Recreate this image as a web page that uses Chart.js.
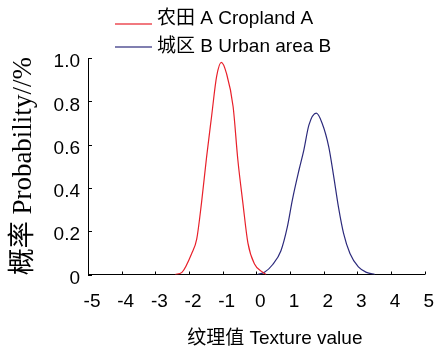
<!DOCTYPE html>
<html><head><meta charset="utf-8">
<script src="https://cdn.jsdelivr.net/npm/chart.js@4.4.0/dist/chart.umd.min.js"></script>
<style>html,body{margin:0;padding:0;background:#fff;}#wrap{width:446px;height:350px;}</style>
</head><body><div id="wrap"><canvas id="c" width="446" height="350"></canvas></div>
<script>
const seriesNames = ['农田 A Cropland A', '城区 B Urban area B'];
const croplandX = [-2.41, -2.21, -1.92, -1.77, -1.63, -1.48, -1.33, -1.18, -1.04, -0.89, -0.69, -0.55, -0.40, -0.25, -0.06, 0.19, 0.29];
const croplandY = [0, 0.01, 0.097, 0.165, 0.33, 0.54, 0.73, 0.915, 0.98, 0.93, 0.775, 0.53, 0.33, 0.145, 0.05, 0.01, 0];
const urbanX = [0.04, 0.24, 0.48, 0.73, 0.92, 1.07, 1.27, 1.41, 1.56, 1.78, 1.95, 2.15, 2.30, 2.44, 2.59, 2.78, 3.03, 3.27, 3.52];
const urbanY = [0, 0.01, 0.045, 0.11, 0.22, 0.345, 0.485, 0.575, 0.69, 0.745, 0.70, 0.59, 0.45, 0.31, 0.19, 0.097, 0.035, 0.01, 0];
const xTickLabels = ['-5', '-4', '-3', '-2', '-1', '0', '1', '2', '3', '4', '5'];
const yTickLabels = ['0', '0.2', '0.4', '0.6', '0.8', '1.0'];
const xTitle = '纹理值 Texture value';
const yTitle = '概率 Probability//%';
const seriesColors = ['#e8202a', '#2c2a7c'];

const toPoints = (xs, ys) => xs.map((x, i) => ({x: x, y: ys[i]}));

const innerTicks = {
  id: 'innerTicks',
  afterDraw(chart) {
    const ctx = chart.ctx, xs = chart.scales.x, ys = chart.scales.y;
    ctx.save();
    ctx.strokeStyle = '#000';
    ctx.lineWidth = 1;
    ctx.beginPath();
    xs.ticks.forEach(t => {
      const px = Math.round(xs.getPixelForValue(t.value)) + 0.5;
      ctx.moveTo(px, ys.bottom);
      ctx.lineTo(px, ys.bottom - 3);
    });
    ys.ticks.forEach(t => {
      const py = Math.round(ys.getPixelForValue(t.value)) + 0.5;
      ctx.moveTo(xs.left, py);
      ctx.lineTo(xs.left + 4, py);
    });
    ctx.stroke();
    ctx.restore();
  }
};

const sideLegend = {
  id: 'sideLegend',
  afterDraw(chart) {
    const ctx = chart.ctx;
    const rows = [{lineY: 24, textY: 19}, {lineY: 47, textY: 47}];
    ctx.save();
    ctx.font = '19px "Liberation Sans", "Noto Sans CJK SC"';
    ctx.textBaseline = 'middle';
    ctx.textAlign = 'left';
    chart.data.datasets.forEach((ds, i) => {
      const r = rows[i];
      ctx.globalAlpha = 0.6;
      ctx.strokeStyle = ds.borderColor;
      ctx.lineWidth = 2;
      ctx.beginPath();
      ctx.moveTo(115, r.lineY);
      ctx.lineTo(152, r.lineY);
      ctx.stroke();
      ctx.globalAlpha = 1;
      ctx.fillStyle = '#000';
      ctx.fillText(ds.label, 157, r.textY);
    });
    ctx.restore();
  }
};

new Chart(document.getElementById('c'), {
  type: 'line',
  data: {
    datasets: [
      {label: seriesNames[0], data: toPoints(croplandX, croplandY), borderColor: seriesColors[0], borderWidth: 1.2, pointRadius: 0, fill: false, cubicInterpolationMode: 'monotone'},
      {label: seriesNames[1], data: toPoints(urbanX, urbanY), borderColor: seriesColors[1], borderWidth: 1.2, pointRadius: 0, fill: false, cubicInterpolationMode: 'monotone'}
    ]
  },
  options: {
    responsive: false,
    animation: false,
    devicePixelRatio: 1,
    layout: {padding: {top: 58, right: 17, bottom: 0, left: 0}},
    plugins: {legend: {display: false}, tooltip: {enabled: false}},
    scales: {
      x: {
        type: 'linear', min: -5, max: 5,
        afterFit: s => { s.height = 75.5; },
        grid: {display: true, drawOnChartArea: false, drawTicks: false},
        border: {display: true, color: '#000', width: 1},
        ticks: {stepSize: 1, padding: 16, labelOffset: 4, color: '#000', maxRotation: 0,
          font: {family: '"Liberation Sans", Arial, sans-serif', size: 19},
          callback: (v, i) => xTickLabels[i]},
        title: {display: true, text: '       ' + xTitle, color: '#000', padding: {top: 4, bottom: 0},
          font: {family: '"Liberation Sans", "Noto Sans CJK SC", sans-serif', size: 19}}
      },
      y: {
        type: 'linear', min: 0, max: 1,
        afterFit: s => { s.width = 88; },
        grid: {display: true, drawOnChartArea: false, drawTicks: false},
        border: {display: true, color: '#000', width: 1},
        ticks: {stepSize: 0.2, padding: 8, labelOffset: 4, color: '#000',
          font: {family: '"Liberation Sans", Arial, sans-serif', size: 19},
          callback: (v, i) => yTickLabels[i]},
        title: {display: true, text: yTitle, color: '#000', padding: {top: 9, bottom: 0},
          font: {family: '"Liberation Serif", "Noto Sans CJK SC", serif', size: 27, lineHeight: 1.1}}
      }
    }
  },
  plugins: [innerTicks, sideLegend]
});
</script>
</body></html>
